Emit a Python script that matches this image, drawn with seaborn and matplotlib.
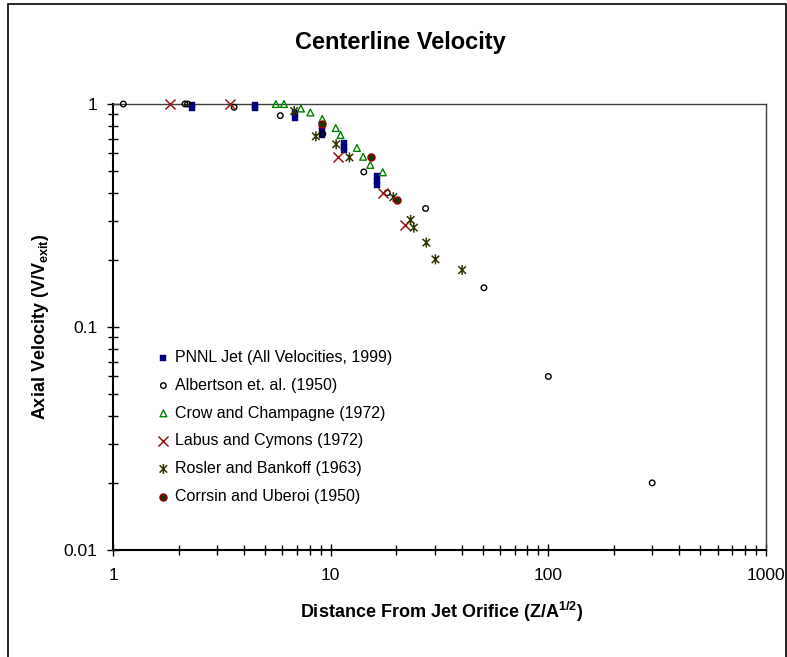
import numpy as np
import pandas as pd
import matplotlib
matplotlib.use("Agg")
import matplotlib.pyplot as plt
import seaborn as sns
from matplotlib.path import Path
from matplotlib.patches import Rectangle
from matplotlib.ticker import LogLocator, NullFormatter, FixedLocator, FixedFormatter

# ---------------- data ----------------
pnnl_x = [2.3, 2.3, 4.5, 4.5, 6.85, 6.85, 9.15, 9.15, 9.15, 11.5, 11.5, 11.5, 16.35, 16.35, 16.35]
pnnl_y = [0.993, 0.962, 0.993, 0.962, 0.911, 0.866, 0.794, 0.757, 0.729, 0.668, 0.642, 0.620, 0.474, 0.452, 0.432]
alb_x = [1.115, 2.14, 2.2, 3.6, 5.87, 9.2, 14.2, 18.2, 27.3, 50.6, 100, 300]
alb_y = [1.0, 1.0, 1.0, 0.967, 0.887, 0.734, 0.496, 0.40, 0.34, 0.15, 0.06, 0.02]
crow_x = [5.6, 6.1, 7.3, 8.07, 9.15, 10.55, 11.1, 13.2, 14.1, 15.2, 17.35]
crow_y = [1.0, 1.0, 0.955, 0.916, 0.857, 0.78, 0.726, 0.635, 0.58, 0.533, 0.494]
lab_x = [1.82, 3.45, 10.8, 17.4, 21.9]
lab_y = [1.0, 1.0, 0.577, 0.40, 0.287]
ros_x = [6.8, 8.55, 10.6, 12.2, 19.4, 23.3, 24.1, 27.5, 30.3, 40.2]
ros_y = [0.93, 0.716, 0.66, 0.576, 0.382, 0.302, 0.279, 0.239, 0.201, 0.180]
cor_x = [9.15, 15.35, 20.2]
cor_y = [0.81, 0.577, 0.37]

series_labels = ["PNNL Jet (All Velocities, 1999)", "Albertson et. al. (1950)",
                 "Crow and Champagne (1972)", "Labus and Cymons (1972)",
                 "Rosler and Bankoff (1963)", "Corrsin and Uberoi (1950)"]

x_ticks = [1, 10, 100, 1000]
x_tick_labels = ["1", "10", "100", "1000"]
y_ticks = [0.01, 0.1, 1]
y_tick_labels = ["0.01", "0.1", "1"]

title = "Centerline Velocity"
x_label = r"Distance From Jet Orifice (Z/A$^{\mathbf{1/2}}$)"
y_label = r"Axial Velocity (V/V$_{\mathbf{exit}}$)"

# ---------------- style ----------------
sns.set_theme(style="white")
plt.rcParams["font.family"] = ["Liberation Sans", "DejaVu Sans"]
plt.rcParams["mathtext.fontset"] = "custom"
plt.rcParams["mathtext.rm"] = "Liberation Sans"
plt.rcParams["mathtext.bf"] = "Liberation Sans:bold"
plt.rcParams["mathtext.it"] = "Liberation Sans:italic"

W, H = 787, 657
fig = plt.figure(figsize=(W / 100, H / 100), dpi=100)
ax = fig.add_axes([113 / W, 1 - 550 / H, (766 - 113) / W, (550 - 104) / H])
ax.set_facecolor("white")

# star marker (x plus vertical bar)
star = Path([(0, -1), (0, 1), (-0.75, -0.75), (0.75, 0.75), (-0.75, 0.75), (0.75, -0.75)],
            [Path.MOVETO, Path.LINETO, Path.MOVETO, Path.LINETO, Path.MOVETO, Path.LINETO])

common = dict(ax=ax, clip_on=False, legend=False)
sns.scatterplot(x=pnnl_x, y=pnnl_y, marker="s", s=24, color="#000080",
                edgecolor="#000080", linewidth=0.3, label=series_labels[0], zorder=3, **common)
sns.scatterplot(x=alb_x, y=alb_y, marker="o", s=16, color="black", facecolor="none",
                edgecolor="black", linewidth=1.0, label=series_labels[1], zorder=4, **common)
sns.scatterplot(x=crow_x, y=crow_y, marker="^", s=24, color="#008000", facecolor="none",
                edgecolor="#008000", linewidth=1.0, label=series_labels[2], zorder=5, **common)
sns.scatterplot(x=lab_x, y=lab_y, marker="x", s=52, color="#9A1515",
                linewidth=1.1, label=series_labels[3], zorder=6, **common)
sns.scatterplot(x=ros_x, y=ros_y, marker=star, s=52, color="#333300", facecolor="none",
                edgecolor="#333300", linewidth=1.1, label=series_labels[4], zorder=7, **common)
sns.scatterplot(x=cor_x, y=cor_y, marker="o", s=26, color="#1E3300",
                edgecolor="#990000", linewidth=1.0, label=series_labels[5], zorder=8, **common)

ax.set_xscale("log")
ax.set_yscale("log")
ax.set_xlim(1, 1000)
ax.set_ylim(0.01, 1)

ax.xaxis.set_major_locator(FixedLocator(x_ticks))
ax.xaxis.set_major_formatter(FixedFormatter(x_tick_labels))
ax.yaxis.set_major_locator(FixedLocator(y_ticks))
ax.yaxis.set_major_formatter(FixedFormatter(y_tick_labels))
ax.xaxis.set_minor_locator(LogLocator(base=10, subs=np.arange(2, 10)))
ax.yaxis.set_minor_locator(LogLocator(base=10, subs=np.arange(2, 10)))
ax.xaxis.set_minor_formatter(NullFormatter())
ax.yaxis.set_minor_formatter(NullFormatter())

ax.tick_params(axis="both", which="major", direction="inout", length=8.4, width=1.0,
               color="black", labelsize=12.5, labelcolor="black", bottom=True, left=True,
               top=False, right=False)
ax.tick_params(axis="both", which="minor", direction="inout", length=7.2, width=1.0,
               color="black", bottom=True, left=True, top=False, right=False)
ax.tick_params(axis="y", which="major", pad=7)
ax.tick_params(axis="x", which="major", pad=9)

for side in ["left", "bottom"]:
    ax.spines[side].set_color("black")
    ax.spines[side].set_linewidth(1.5)
for side in ["top", "right"]:
    ax.spines[side].set_visible(True)
    ax.spines[side].set_color("#404040")
    ax.spines[side].set_linewidth(1.0)
ax.grid(False)

ax.set_xlabel(x_label, fontsize=13, fontweight="bold", va="center", color="black")
ax.xaxis.set_label_coords((442 - 113) / (766 - 113), -(612 - 550) / (550 - 104))
ax.set_ylabel(y_label, fontsize=13, fontweight="bold", va="center", color="black")
ax.yaxis.set_label_coords(-(113 - 41) / (766 - 113), 0.5)

ax.set_title(title, fontsize=17, fontweight="bold", color="black", pad=0,
             x=(400 - 113) / (766 - 113), y=(550 - 43) / (550 - 104), va="center")

leg = ax.legend(loc="upper left", bbox_to_anchor=(157 / W, 1 - 350 / H),
                bbox_transform=fig.transFigure, frameon=False, fontsize=11.5,
                handlelength=0.8, handletextpad=0.3, labelspacing=0.8,
                borderpad=0, borderaxespad=0, scatterpoints=1)
for t in leg.get_texts():
    t.set_color("black")

# figure border
fig.add_artist(Rectangle((8 / W, -0.05), (785.5 - 8) / W, 1.05 - 4 / H,
                         transform=fig.transFigure, fill=False, edgecolor="black",
                         linewidth=1.2, clip_on=False))

fig.savefig("out.png", dpi=100, facecolor="white")
